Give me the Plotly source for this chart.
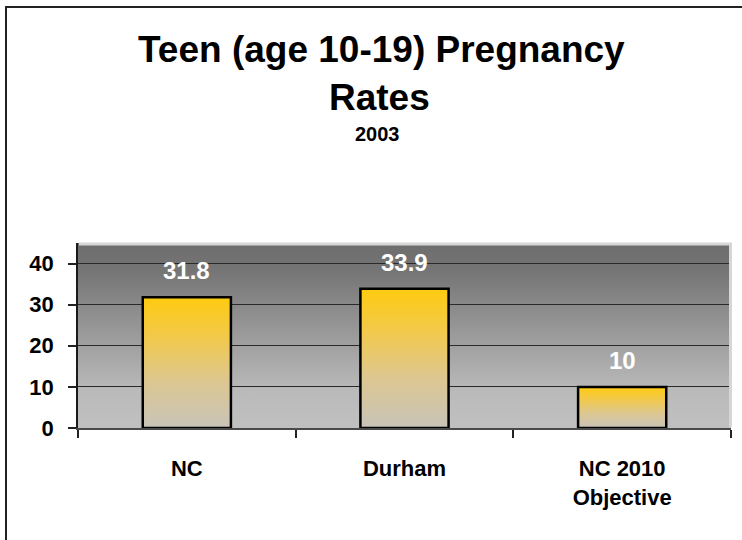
import base64
import plotly.graph_objects as go

# ---- data ----
categories = ["NC", "Durham", "NC 2010<br>Objective"]
rates = [31.8, 33.9, 10]
y_ticks = [0, 10, 20, 30, 40]
title_line1 = "Teen (age 10-19) Pregnancy"
title_line2 = "Rates"
subtitle = "2003"

FONT = "Liberation Sans, Arial, sans-serif"

# figure geometry (pixels)
W, H = 742, 540
L, R, T, B = 78, 11, 243, 112
PW, PH = W - L - R, H - T - B


def px_x(px):
    return (px - L) / PW


def px_y(py):
    return (H - B - py) / PH


bar_width = 0.405
bar_scale = [[0.0, "#c9c4b9"], [0.35, "#dcc792"], [0.7, "#f2c94a"], [1.0, "#fecb10"]]

fig = go.Figure()

for i, (cat, v) in enumerate(zip(categories, rates)):
    x0, x1 = i - bar_width / 2, i + bar_width / 2
    fig.add_trace(go.Scatter(
        x=[x0, x1, x1, x0, x0], y=[0, 0, v, v, 0],
        mode="lines", fill="toself",
        fillgradient=dict(type="vertical", colorscale=bar_scale),
        line=dict(color="#000000", width=2.5),
        hoverinfo="skip", showlegend=False,
    ))
    fig.add_annotation(
        x=i, y=v, xref="x", yref="y", text=f"{v:g}", showarrow=False,
        yanchor="middle", yshift=26.5,
        font=dict(family=FONT, size=24, color="white", weight="bold"),
    )

# background gradient of plot wall
svg = (
    '<svg xmlns="http://www.w3.org/2000/svg" width="100" height="100" preserveAspectRatio="none">'
    '<defs><linearGradient id="g" x1="0" y1="0" x2="0" y2="1">'
    '<stop offset="0" stop-color="#6d6d6d"/>'
    '<stop offset="0.15" stop-color="#757575"/>'
    '<stop offset="0.5" stop-color="#9b9b9b"/>'
    '<stop offset="0.8" stop-color="#bababa"/>'
    '<stop offset="1" stop-color="#c0c0c0"/>'
    '</linearGradient></defs>'
    '<rect width="100" height="100" fill="url(#g)"/></svg>'
)
src = "data:image/svg+xml;base64," + base64.b64encode(svg.encode()).decode()
fig.add_layout_image(dict(
    source=src, xref="paper", yref="paper", x=0, y=1, sizex=1, sizey=1,
    xanchor="left", yanchor="top", sizing="stretch", layer="below",
))

# titles
fig.add_annotation(x=px_x(381), y=px_y(49), xref="paper", yref="paper",
                   text=title_line1, showarrow=False, xanchor="center", yanchor="middle",
                   font=dict(family=FONT, size=37, color="black", weight="bold"))
fig.add_annotation(x=px_x(379), y=px_y(97), xref="paper", yref="paper",
                   text=title_line2, showarrow=False, xanchor="center", yanchor="middle",
                   font=dict(family=FONT, size=37, color="black", weight="bold"))
fig.add_annotation(x=px_x(377), y=px_y(134), xref="paper", yref="paper",
                   text=subtitle, showarrow=False, xanchor="center", yanchor="middle",
                   font=dict(family=FONT, size=20, color="black", weight="bold"))

# outer border and light wall edges
fig.add_shape(type="rect", xref="paper", yref="paper",
              x0=px_x(6), x1=px_x(770), y0=px_y(580), y1=px_y(7),
              line=dict(color="#222222", width=2), fillcolor="rgba(0,0,0,0)", layer="above")
fig.add_shape(type="path", xref="paper", yref="paper",
              path=f"M {px_x(79)} {px_y(244)} L {px_x(730.5)} {px_y(244)} L {px_x(730.5)} {px_y(427)}",
              line=dict(color="#d6d6d6", width=3), layer="above")

fig.update_layout(
    width=W, height=H,
    margin=dict(l=L, r=R, t=T, b=B, autoexpand=False),
    paper_bgcolor="white", plot_bgcolor="#c0c0c0",
    showlegend=False,
    xaxis=dict(
        range=[-0.5, 2.5], tickmode="array", tickvals=[0, 1, 2], ticktext=categories,
        ticks="", showgrid=False, zeroline=False,
        showline=True, linecolor="#4a4a4a", linewidth=2,
        tickfont=dict(family=FONT, size=22, color="black", weight="bold"),
        ticklabelstandoff=20,
        minor=dict(tickmode="array", tickvals=[-0.5, 0.5, 1.5, 2.5], ticks="outside",
                   ticklen=8, tickcolor="#222222", tickwidth=1.5, showgrid=False),
        fixedrange=True,
    ),
    yaxis=dict(
        range=[0, 45], tickmode="array", tickvals=y_ticks,
        ticks="outside", ticklen=8, tickcolor="#222222", tickwidth=1.5,
        showgrid=True, gridcolor="#2a2a2a", gridwidth=1,
        zeroline=False, showline=True, linecolor="#1a1a1a", linewidth=1.5,
        tickfont=dict(family=FONT, size=22, color="black", weight="bold"),
        ticklabelstandoff=10,
        fixedrange=True,
    ),
)

fig.write_html("out.html", config={"displayModeBar": False},
               post_script="document.body.style.margin='0';document.body.style.overflow='hidden';")
